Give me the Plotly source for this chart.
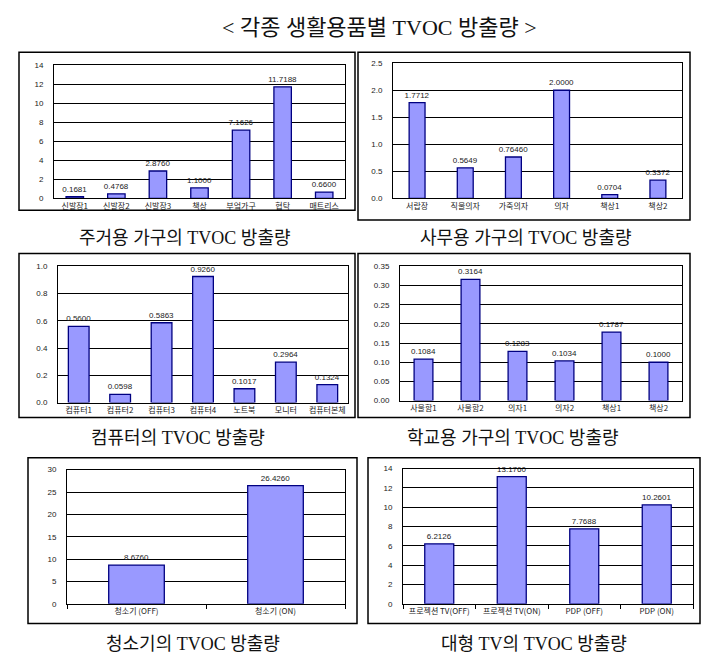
import plotly.graph_objects as go

W, H = 726, 671

# ---------------- data ----------------
p1_cats = ["신발장1", "신발장2", "신발장3", "책상", "부엌가구", "협탁", "매트리스"]
p1_vals = [0.1681, 0.4768, 2.8760, 1.1000, 7.1626, 11.7188, 0.6600]
p1_text = ["0.1681", "0.4768", "2.8760", "1.1000", "7.1626", "11.7188", "0.6600"]

p2_cats = ["서랍장", "직물의자", "가죽의자", "의자", "책상1", "책상2"]
p2_vals = [1.7712, 0.5649, 0.76460, 2.0000, 0.0704, 0.3372]
p2_text = ["1.7712", "0.5649", "0.76460", "2.0000", "0.0704", "0.3372"]

p3_cats = ["컴퓨터1", "컴퓨터2", "컴퓨터3", "컴퓨터4", "노트북", "모니터", "컴퓨터본체"]
p3_vals = [0.5600, 0.0598, 0.5863, 0.9260, 0.1017, 0.2964, 0.1324]
p3_text = ["0.5600", "0.0598", "0.5863", "0.9260", "0.1017", "0.2964", "0.1324"]

p4_cats = ["사물함1", "사물함2", "의자1", "의자2", "책상1", "책상2"]
p4_vals = [0.1084, 0.3164, 0.1283, 0.1034, 0.1787, 0.1000]
p4_text = ["0.1084", "0.3164", "0.1283", "0.1034", "0.1787", "0.1000"]

p5_cats = ["청소기 (OFF)", "청소기 (ON)"]
p5_vals = [8.6760, 26.4260]
p5_text = ["8.6760", "26.4260"]

p6_cats = ["프로젝션 TV(OFF)", "프로젝션 TV(ON)", "PDP (OFF)", "PDP (ON)"]
p6_vals = [6.2126, 13.1760, 7.7688, 10.2601]
p6_text = ["6.2126", "13.1760", "7.7688", "10.2601"]

main_title = "< 각종 생활용품별 TVOC 방출량 >"
subtitles = ["주거용 가구의 TVOC 방출량", "사무용 가구의 TVOC 방출량",
             "컴퓨터의 TVOC 방출량", "학교용 가구의 TVOC 방출량",
             "청소기의 TVOC 방출량", "대형 TV의 TVOC 방출량"]

# ---------------- layout (pixels) ----------------
panels = [
    dict(cats=p1_cats, vals=p1_vals, text=p1_text, rng=[0, 14], dtick=2, fmt="d",
         plot=(54, 62, 345, 197), box=(19, 49, 355, 209), bw=0.42, sub=(185, 237), btick=False),
    dict(cats=p2_cats, vals=p2_vals, text=p2_text, rng=[0, 2.5], dtick=0.5, fmt=".1f",
         plot=(393, 60, 682, 197), box=(358, 49, 690, 219), bw=0.33, sub=(526, 237), btick=False),
    dict(cats=p3_cats, vals=p3_vals, text=p3_text, rng=[0, 1.0], dtick=0.2, fmt=".1f",
         plot=(58, 266, 348, 404), box=(19, 253, 355, 419), bw=0.5, sub=(178, 440), btick=False),
    dict(cats=p4_cats, vals=p4_vals, text=p4_text, rng=[0, 0.35], dtick=0.05, fmt=".2f",
         plot=(400, 266, 682, 402), box=(358, 253, 690, 419), bw=0.4, sub=(513, 440), btick=False),
    dict(cats=p5_cats, vals=p5_vals, text=p5_text, rng=[0, 30], dtick=5, fmt="d",
         plot=(67, 472, 345, 608), box=(28, 460, 357, 628), bw=0.4, sub=(193, 649), btick=True),
    dict(cats=p6_cats, vals=p6_vals, text=p6_text, rng=[0, 14], dtick=2, fmt="d",
         plot=(403, 471, 693, 608), box=(368, 460, 700, 628), bw=0.4, sub=(534, 649), btick=True),
]

def px(x):
    return x / W

def py(y):
    return 1 - y / H

fig = go.Figure()
layout = dict(width=W, height=H, margin=dict(l=0, r=0, t=0, b=0),
              paper_bgcolor="white", plot_bgcolor="white", showlegend=False,
              shapes=[], annotations=[])

tickfont = dict(family="Arial, Liberation Sans, Noto Sans CJK KR", size=8, color="#222")
catfont = dict(family="Noto Sans CJK KR, Arial", size=8, color="#222")
serif = "Liberation Serif, Noto Sans CJK KR"

for i, p in enumerate(panels):
    n = "" if i == 0 else str(i + 1)
    x0, y0, x1, y1 = p["plot"]
    fig.add_trace(go.Bar(
        x=p["cats"], y=p["vals"], text=p["text"], textposition="outside",
        constraintext="none", textangle=0,
        textfont=dict(family="Arial, Liberation Sans", size=8, color="#222"),
        marker=dict(color="#9999FF", line=dict(color="#000080", width=1.3)),
        width=p["bw"], cliponaxis=False,
        xaxis="x" + n, yaxis="y" + n, hoverinfo="skip"))
    layout["xaxis" + n] = dict(
        domain=[px(x0), px(x1)], anchor="y" + n, showgrid=False,
        showline=True, linecolor="black", linewidth=1, mirror=True,
        tickfont=catfont, fixedrange=True,
        ticks="outside" if p["btick"] else "", tickson="boundaries",
        ticklen=4, tickcolor="black", tickwidth=1)
    layout["yaxis" + n] = dict(
        domain=[py(y1), py(y0)], anchor="x" + n, range=p["rng"], dtick=p["dtick"],
        tickformat=p["fmt"], showgrid=True, gridcolor="black", gridwidth=1,
        showline=True, linecolor="black", linewidth=1, mirror=True,
        ticks="", tickfont=tickfont, zeroline=False, fixedrange=True,
        ticklabelstandoff=8)
    bx0, by0, bx1, by1 = p["box"]
    layout["shapes"].append(dict(type="rect", xref="paper", yref="paper",
                                 x0=px(bx0), x1=px(bx1), y0=py(by1), y1=py(by0),
                                 line=dict(color="black", width=1.5)))
    sx, sy = p["sub"]
    layout["annotations"].append(dict(xref="paper", yref="paper", x=px(sx), y=py(sy),
                                      text=subtitles[i], showarrow=False,
                                      xanchor="center", yanchor="middle",
                                      font=dict(family=serif, size=18, color="#111")))

layout["annotations"].append(dict(xref="paper", yref="paper", x=px(380), y=py(24),
                                  text=main_title, showarrow=False,
                                  xanchor="center", yanchor="middle",
                                  font=dict(family=serif, size=22, color="#111")))

fig.update_layout(**layout)
fig.write_html("out.html")
